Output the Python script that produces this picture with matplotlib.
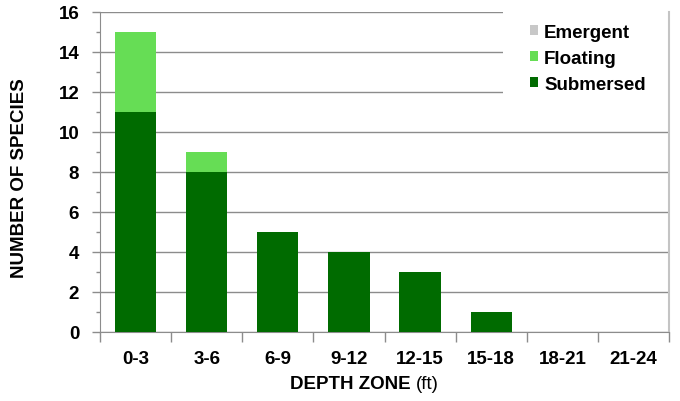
import matplotlib
matplotlib.use("Agg")
import matplotlib.pyplot as plt
import numpy as np
from matplotlib.patches import Patch, Rectangle

categories = ["0-3", "3-6", "6-9", "9-12", "12-15", "15-18", "18-21", "21-24"]
submersed = [11, 8, 5, 4, 3, 1, 0, 0]
floating = [4, 1, 0, 0, 0, 0, 0, 0]
emergent = [0, 0, 0, 0, 0, 0, 0, 0]

c_sub = "#006b00"
c_flo = "#66dd55"
c_eme = "#c8c8c8"

plt.rcParams['font.family'] = ['Liberation Sans', 'DejaVu Sans']
FS = 13.5

W, H = 680, 402
L, R, T, B = 100, 669, 13, 333
fig = plt.figure(figsize=(W / 100, H / 100), dpi=100)
ax = fig.add_axes([L / W, 1 - B / H, (R - L) / W, (B - T) / H])

x = np.arange(len(categories))
w = 0.58
sub = np.array(submersed)
flo = np.array(floating)
eme = np.array(emergent)
ax.bar(x, sub, w, color=c_sub, zorder=3)
ax.bar(x, flo, w, bottom=sub, color=c_flo, zorder=3)
ax.bar(x, eme, w, bottom=sub + flo, color=c_eme, zorder=3)

ax.set_xlim(-0.5, len(categories) - 0.5)
ax.set_ylim(0, 16)

ax.set_yticks(np.arange(0, 17, 2))
ax.set_yticks(np.arange(1, 16, 2), minor=True)
ax.yaxis.grid(True, which='major', color='#8c8c8c', linewidth=1.0, zorder=0)
ax.set_axisbelow(True)

ax.set_xticks(np.arange(-0.5, len(categories), 1.0))
ax.set_xticklabels([])
ax.set_xticks(x, minor=True)
ax.set_xticklabels(categories, minor=True)
ax.tick_params(axis='x', which='major', length=7, color='#8c8c8c', width=1)
ax.tick_params(axis='x', which='minor', length=0, pad=13, labelsize=FS)
ax.tick_params(axis='y', which='major', length=6, color='#8c8c8c', width=1, labelsize=FS, pad=9)
ax.tick_params(axis='y', which='minor', length=3, color='#8c8c8c', width=1)
for lab in ax.get_xticklabels(minor=True) + ax.get_yticklabels():
    lab.set_fontweight('bold')

ax.spines['left'].set_color('#8c8c8c')
ax.spines['bottom'].set_color('#8c8c8c')
ax.spines['top'].set_visible(False)
ax.spines['right'].set_color('#c4c4c4')
ax.spines['right'].set_linewidth(1.5)

# y label
fig.text(20 / W, 1 - 178 / H, "NUMBER OF SPECIES", rotation=90,
         ha='center', va='center', fontsize=FS, fontweight='bold')

# composite x label: bold part + regular "(ft)"
ylab = 1 - 385 / H
t1 = fig.text(0.5, ylab, "DEPTH ZONE ", ha='right', va='center',
              fontsize=FS, fontweight='bold')
t2 = fig.text(0.5, ylab, "(ft)", ha='left', va='center', fontsize=FS)
fig.canvas.draw()
r = fig.canvas.get_renderer()
b1 = t1.get_window_extent(r)
b2 = t2.get_window_extent(r)
total = b1.width + b2.width
center_px = 364.0
split = center_px - total / 2 + b1.width
xs = split / fig.bbox.width
t1.set_x(xs)
t2.set_x(xs)

# legend background box (hides gridlines)
bx0 = (503 - L) / (R - L)
by0 = (B - 100) / (B - T)
ax.add_patch(Rectangle((bx0, by0), 1 - bx0, 1 - by0, transform=ax.transAxes,
                       facecolor='white', edgecolor='none', zorder=2))

handles = [Patch(facecolor=c_eme, label="Emergent"),
           Patch(facecolor=c_flo, label="Floating"),
           Patch(facecolor=c_sub, label="Submersed")]
leg = ax.legend(handles=handles, loc='upper left',
                bbox_to_anchor=((530 - L) / (R - L), (B - 25) / (B - T)),
                frameon=False, prop={'weight': 'bold', 'size': FS},
                handlelength=0.45, handleheight=0.45, handletextpad=0.3,
                labelspacing=0.48, borderpad=0.0, borderaxespad=0.0)
leg.set_zorder(5)

fig.savefig("out.png", dpi=100)
